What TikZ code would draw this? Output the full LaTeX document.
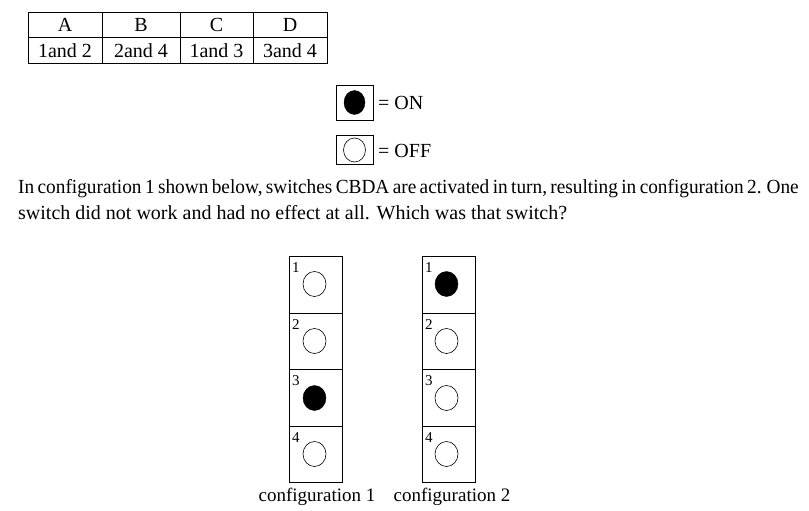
\documentclass[tikz,border=0pt]{standalone}
\usepackage{fontspec}
\setmainfont{Liberation Serif}
\newfontfamily\tightfont[WordSpace=0.7,FakeStretch=0.965]{Liberation Serif}
\begin{document}
\begin{tikzpicture}[x=1pt,y=-1pt,
  txt/.style={inner sep=0pt,font=\fontsize{20}{24}\selectfont},
  para/.style={inner sep=0pt,font=\tightfont\fontsize{20}{24}\selectfont},
  small/.style={inner sep=0pt,font=\fontsize{19}{22}\selectfont},
  num/.style={inner sep=0pt,font=\fontsize{15}{17}\selectfont,anchor=north west},
  cellbox/.style={draw,line width=0.8pt},
  onc/.style={fill=black,draw=black},
  offc/.style={draw=black,fill=white,line width=0.6pt}]
\useasboundingbox (0,0) rectangle (809,511);
% table
\draw[line width=0.8pt] (28,12) rectangle (327,63);
\draw[line width=0.8pt] (28,37) -- (327,37);
\foreach \x in {102,180,253} \draw[line width=0.8pt] (\x,12) -- (\x,63);
\node[txt] (tA) at (65,25) {A};
\node[txt] (tB) at (141,25) {B};
\node[txt] (tC) at (216.5,25) {C};
\node[txt] (tD) at (290,25) {D};
\node[txt] (t1) at (65,50.5) {1and 2};
\node[txt] (t2) at (141,50.5) {2and 4};
\node[txt] (t3) at (216.5,50.5) {1and 3};
\node[txt] (t4) at (290,50.5) {3and 4};
% legend
\draw[cellbox] (336,85) rectangle (373,120);
\fill[onc] (354.5,102.5) ellipse (10.5 and 12);
\node[txt,anchor=west] (on) at (378,103) {= ON};
\draw[cellbox] (336,135) rectangle (373,164);
\draw[offc] (354.5,150) ellipse (11 and 12);
\node[txt,anchor=west] (off) at (378,151) {= OFF};
% sentence
\node[para,anchor=base west] (s1) at (18,193) {In configuration 1 shown below, switches CBDA are activated in turn, resulting in configuration 2. One};
\node[txt,anchor=base west] (s2) at (18,219) {switch did not work and had no effect at all. Which was that switch?};
% configurations
\foreach \cx/\st in {289/1,422/2} {
  \draw[cellbox] (\cx,256) rectangle ++(53,226);
  \foreach \yy in {313,369,426} \draw[cellbox] (\cx,\yy) -- ++(53,0);
}
\foreach \i/\yy in {1/262,2/319,3/375,4/432} {
  \node[num] at (292,\yy) {\i};
  \node[num] at (425,\yy) {\i};
}
\draw[offc] (314.5,284) ellipse (11.5 and 12.5);
\draw[offc] (314.5,341) ellipse (11.5 and 12.5);
\fill[onc] (314.5,398) ellipse (11.5 and 12.5);
\draw[offc] (314.5,454) ellipse (11.5 and 12.5);
\fill[onc] (446.5,284) ellipse (11.5 and 12.5);
\draw[offc] (446.5,341) ellipse (11.5 and 12.5);
\draw[offc] (446.5,398) ellipse (11.5 and 12.5);
\draw[offc] (446.5,454) ellipse (11.5 and 12.5);
\node[small] (c1) at (317,497) {configuration 1};
\node[small] (c2) at (452,497) {configuration 2};
\end{tikzpicture}
\end{document}
